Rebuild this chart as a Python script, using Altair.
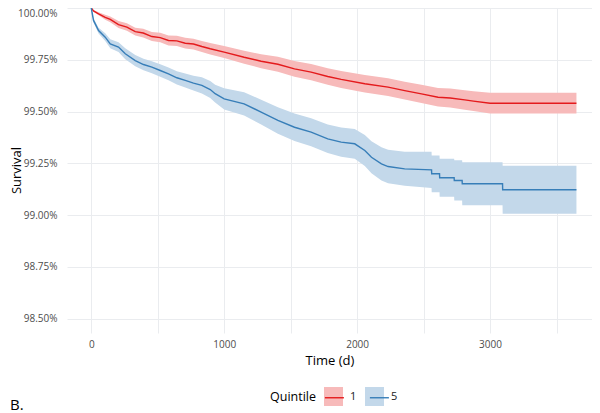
import altair as alt
import pandas as pd

# Quintile 1 (red) Kaplan-Meier estimate, survival in %
t1 = [0, 17, 55, 105, 143, 205, 268, 331, 391, 456, 519, 581, 644, 707, 769, 832, 895,
      1000, 1150, 1278, 1404, 1529, 1654, 1779, 1880, 2058, 2233, 2358, 2484, 2609,
      2700, 2810, 2875, 3000, 3650]
s1 = [100.000, 99.986, 99.972, 99.955, 99.945, 99.920, 99.908, 99.886, 99.879, 99.862,
      99.857, 99.843, 99.841, 99.830, 99.826, 99.814, 99.803, 99.787, 99.762, 99.743,
      99.728, 99.706, 99.690, 99.669, 99.655, 99.634, 99.618, 99.601, 99.585, 99.569,
      99.565, 99.556, 99.550, 99.540, 99.540]
lo1 = [100.000, 99.982, 99.965, 99.943, 99.931, 99.903, 99.890, 99.867, 99.858, 99.840,
       99.834, 99.819, 99.816, 99.804, 99.800, 99.787, 99.775, 99.758, 99.731, 99.709,
       99.692, 99.668, 99.651, 99.629, 99.614, 99.592, 99.575, 99.558, 99.541, 99.524,
       99.519, 99.509, 99.502, 99.490, 99.490]
hi1 = [100.000, 99.990, 99.979, 99.967, 99.959, 99.937, 99.926, 99.905, 99.900, 99.884,
       99.880, 99.867, 99.866, 99.856, 99.852, 99.841, 99.831, 99.816, 99.793, 99.777,
       99.764, 99.744, 99.729, 99.709, 99.696, 99.676, 99.661, 99.644, 99.629, 99.614,
       99.611, 99.603, 99.598, 99.590, 99.590]

# Quintile 5 (blue)
t5 = [0, 17, 55, 105, 143, 205, 256, 331, 393, 456, 519, 581, 644, 707, 769, 832, 895,
      932, 1000, 1150, 1278, 1404, 1529, 1654, 1779, 1880, 1982, 2058, 2108, 2183, 2233,
      2358, 2560, 2561, 2620, 2621, 2730, 2731, 2790, 2791, 3094, 3095, 3650]
s5 = [100.000, 99.940, 99.891, 99.859, 99.827, 99.811, 99.779, 99.746, 99.727, 99.714,
      99.698, 99.682, 99.663, 99.650, 99.637, 99.626, 99.606, 99.586, 99.561, 99.537,
      99.497, 99.457, 99.424, 99.400, 99.368, 99.352, 99.344, 99.312, 99.279, 99.247,
      99.234, 99.223, 99.218, 99.199, 99.199, 99.180, 99.180, 99.167, 99.167, 99.151,
      99.151, 99.122, 99.122]
lo5 = [100.000, 99.930, 99.877, 99.840, 99.805, 99.787, 99.753, 99.719, 99.699, 99.685,
       99.668, 99.651, 99.631, 99.616, 99.601, 99.587, 99.565, 99.543, 99.510, 99.481,
       99.437, 99.393, 99.358, 99.332, 99.299, 99.281, 99.272, 99.237, 99.202, 99.167,
       99.153, 99.141, 99.131, 99.110, 99.110, 99.088, 99.088, 99.070, 99.070, 99.047,
       99.047, 99.006, 99.006]
hi5 = [100.000, 99.950, 99.905, 99.878, 99.849, 99.835, 99.805, 99.773, 99.755, 99.743,
       99.728, 99.713, 99.695, 99.684, 99.673, 99.665, 99.647, 99.629, 99.612, 99.593,
       99.557, 99.521, 99.490, 99.468, 99.437, 99.423, 99.416, 99.387, 99.356, 99.327,
       99.315, 99.305, 99.305, 99.288, 99.288, 99.272, 99.272, 99.264, 99.264, 99.255,
       99.255, 99.238, 99.238]

groups = ["1", "5"]
line_colors = ["#E41A1C", "#377EB8"]
band_colors = ["#F7BABA", "#C3D8EA"]

x_ticks = [0, 500, 1000, 1500, 2000, 2500, 3000, 3500]
y_ticks = [98.5, 98.625, 98.75, 98.875, 99.0, 99.125, 99.25, 99.375, 99.5, 99.625,
           99.75, 99.875, 100.0]

df = pd.concat([
    pd.DataFrame({"t": t1, "s": s1, "lo": lo1, "hi": hi1, "q": "1"}),
    pd.DataFrame({"t": t5, "s": s5, "lo": lo5, "hi": hi5, "q": "5"}),
])

FONT = "Open Sans"
LEG_X = 203
LEG_Y = 379
TITLE_SIZE = 12.5
LABEL_SIZE = 11
# width of "Quintile" and of a digit in Open Sans at the sizes above
TITLE_W = 3.672 * TITLE_SIZE
DIGIT_W = 0.572 * LABEL_SIZE
LABEL_OFF = 7 + DIGIT_W   # right-aligned labels: entry width no longer depends on text

xenc = alt.X("t:Q", scale=alt.Scale(domain=[-182.5, 3767], nice=False, zero=False),
             axis=alt.Axis(values=x_ticks, title="Time (d)",
                           labelExpr="datum.value % 1000 == 0 ? datum.label : ''",
                           format="d", titleBaseline="middle", titleY=27))
yscale = alt.Scale(domain=[98.43, 100.0], nice=False, zero=False)

band = alt.Chart(df).mark_area(interpolate="linear").encode(
    x=xenc,
    y=alt.Y("lo:Q", scale=yscale,
            axis=alt.Axis(values=y_ticks, title="Survival", labelFlush=True,
                          labelExpr="abs(round(datum.value*4) - datum.value*4) < 1e-6 ? format(datum.value, '.2f') + '%' : ''",
                          titleX=-51, titleY=162, titleAngle=270, titleBaseline="middle")),
    y2="hi:Q",
    fill=alt.Fill("q:N", scale=alt.Scale(domain=groups, range=band_colors),
                  legend=alt.Legend(orient="none", legendX=LEG_X, legendY=LEG_Y,
                                    direction="horizontal", title="Quintile",
                                    titleOrient="left", titleFontSize=TITLE_SIZE,
                                    titleFontWeight="normal", titleFont=FONT,
                                    titlePadding=8, titleBaseline="middle",
                                    titleAnchor="middle", titleColor="#000000",
                                    labelFont=FONT, labelFontSize=LABEL_SIZE,
                                    labelColor="#1a1a1a", labelAlign="right",
                                    labelOffset=LABEL_OFF,
                                    columnPadding=8, symbolSize=361, padding=0,
                                    symbolType="square", symbolStrokeWidth=0, zindex=1)),
)

line = alt.Chart(df).mark_line(interpolate="linear", strokeWidth=1.4).encode(
    x=xenc,
    y=alt.Y("s:Q", scale=yscale),
    stroke=alt.Stroke("q:N", scale=alt.Scale(domain=groups, range=line_colors),
                      legend=alt.Legend(orient="none", legendX=LEG_X + TITLE_W + 8,
                                        legendY=LEG_Y, direction="horizontal",
                                        title=None, labelExpr="''", labelAlign="right",
                                        labelFontSize=LABEL_SIZE, labelOffset=LABEL_OFF,
                                        columnPadding=8, symbolSize=361,
                                        padding=0, symbolType="stroke",
                                        symbolStrokeWidth=1.4, zindex=2)),
)

chart = alt.layer(band, line).resolve_scale(fill="independent", stroke="independent").properties(
    width=525, height=325,
    autosize=alt.AutoSizeParams(type="none"),
    padding={"left": 59, "top": 0, "right": 0, "bottom": 80},
    title=alt.TitleParams("B.", orient="bottom", anchor="start", frame="bounds",
                          fontSize=15, fontWeight="normal", font=FONT, color="#000000",
                          offset=-8),
).configure_view(stroke=None).configure_axis(
    grid=True, gridColor="#EAECEF", gridWidth=1, domain=False, ticks=False, tickSize=0,
    labelFont=FONT, labelFontSize=10, labelColor="#4D4D4D", labelPadding=6,
    titleFont=FONT, titleFontSize=13, titleFontWeight="normal", titleColor="#000000",
).configure_axisY(labelPadding=10)

chart.save("out.html", embed_options={"renderer": "svg", "actions": False})
